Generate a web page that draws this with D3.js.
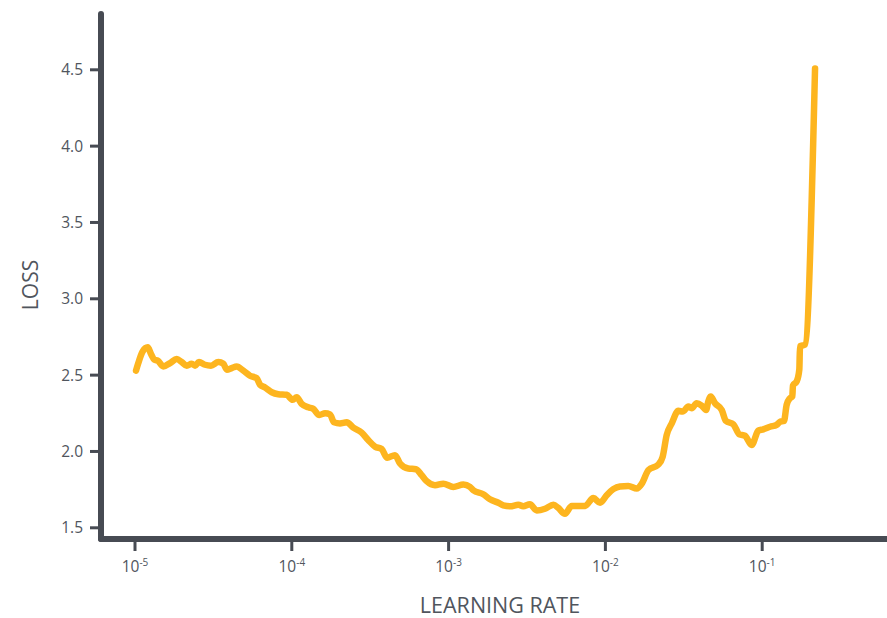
<!DOCTYPE html>
<html>
<head>
<meta charset="utf-8">
<script src="https://cdn.jsdelivr.net/npm/d3@7"></script>
<style>
  html, body { margin: 0; padding: 0; background: #fff; }
  svg { display: block; }
  text { font-family: "Open Sans", "Noto Sans", sans-serif; fill: #50555d; }
</style>
</head>
<body>
<svg id="chart" width="887" height="618"></svg>
<script>
// Learning-rate range test: loss recorded at each learning rate
const learningRates = [
  1.015e-5, 1.05e-5, 1.113e-5, 1.205e-5, 1.265e-5, 1.328e-5, 1.396e-5, 1.515e-5, 1.673e-5, 1.845e-5,
  1.985e-5, 2.137e-5, 2.30e-5, 2.414e-5, 2.559e-5, 2.795e-5, 3.05e-5, 3.40e-5, 3.66e-5, 3.85e-5,
  4.14e-5, 4.45e-5, 4.91e-5, 5.41e-5, 5.97e-5, 6.27e-5, 6.75e-5, 7.45e-5, 8.20e-5, 9.27e-5,
  1.014e-4, 1.074e-4, 1.156e-4, 1.274e-4, 1.371e-4, 1.497e-4, 1.629e-4, 1.753e-4, 1.858e-4, 2.029e-4,
  2.239e-4, 2.468e-4, 2.79e-4, 3.07e-4, 3.40e-4, 3.74e-4, 4.06e-4, 4.55e-4, 4.90e-4, 5.53e-4,
  6.19e-4, 6.73e-4, 7.25e-4, 8.19e-4, 9.25e-4, 1.072e-3, 1.242e-3, 1.368e-3, 1.438e-3, 1.663e-3,
  1.837e-3, 2.075e-3, 2.23e-3, 2.466e-3, 2.786e-3, 2.99e-3, 3.30e-3, 3.65e-3, 4.12e-3, 4.66e-3,
  5.01e-3, 5.52e-3, 6.10e-3, 6.72e-3, 7.41e-3, 8.38e-3, 9.25e-3, 1.019e-2, 1.122e-2, 1.239e-2,
  1.40e-2, 1.585e-2, 1.706e-2, 1.879e-2, 2.173e-2, 2.318e-2, 2.46e-2, 2.65e-2, 2.92e-2, 3.11e-2,
  3.38e-2, 3.55e-2, 3.82e-2, 4.11e-2, 4.39e-2, 4.53e-2, 4.70e-2, 5.00e-2, 5.52e-2, 5.87e-2,
  6.55e-2, 7.15e-2, 7.76e-2, 8.57e-2, 9.44e-2, 1.016e-1, 1.122e-1, 1.236e-1, 1.30e-1, 1.377e-1,
  1.432e-1, 1.504e-1, 1.556e-1, 1.571e-1, 1.66e-1, 1.725e-1, 1.742e-1, 1.875e-1, 2.173e-1
];
const losses = [
  2.529, 2.579, 2.651, 2.682, 2.638, 2.601, 2.595, 2.557, 2.579, 2.605,
  2.586, 2.562, 2.575, 2.562, 2.586, 2.568, 2.562, 2.586, 2.575, 2.536,
  2.546, 2.557, 2.529, 2.496, 2.480, 2.437, 2.419, 2.388, 2.375, 2.371,
  2.338, 2.355, 2.312, 2.289, 2.279, 2.239, 2.250, 2.243, 2.191, 2.184,
  2.191, 2.156, 2.123, 2.075, 2.031, 2.016, 1.959, 1.976, 1.921, 1.888,
  1.884, 1.845, 1.805, 1.779, 1.789, 1.768, 1.783, 1.768, 1.746, 1.720,
  1.687, 1.664, 1.647, 1.641, 1.651, 1.641, 1.654, 1.614, 1.625, 1.651,
  1.630, 1.592, 1.643, 1.643, 1.643, 1.695, 1.664, 1.713, 1.753, 1.771,
  1.774, 1.757, 1.789, 1.878, 1.914, 1.965, 2.108, 2.184, 2.266, 2.261,
  2.294, 2.283, 2.316, 2.301, 2.272, 2.327, 2.360, 2.316, 2.272, 2.200,
  2.178, 2.112, 2.103, 2.042, 2.136, 2.145, 2.162, 2.174, 2.195, 2.200,
  2.305, 2.349, 2.360, 2.432, 2.459, 2.538, 2.689, 2.700, 4.509
];

const xTickExponents = [-5, -4, -3, -2, -1];
const yTickValues = [1.5, 2.0, 2.5, 3.0, 3.5, 4.0, 4.5];
const xTitle = "LEARNING RATE";
const yTitle = "LOSS";

const data = learningRates.map((lr, i) => ({ lr, loss: losses[i] }));

const svg = d3.select("#chart");
const axisColor = "#474b53";
const lineColor = "#fdb51f";

const x = d3.scaleLog().domain([1e-5, 1e-1]).range([135, 762.2]);
const y = d3.scaleLinear().domain([1.5, 4.5]).range([527.8, 69.8]);

const axisX = 101;   // left spine position
const axisY = 539;   // bottom spine position

// Loss curve
const line = d3.line()
  .x(d => x(d.lr))
  .y(d => y(d.loss))
  .curve(d3.curveMonotoneX);

svg.append("path")
  .datum(data)
  .attr("d", line)
  .attr("fill", "none")
  .attr("stroke", lineColor)
  .attr("stroke-width", 6.5)
  .attr("stroke-linejoin", "round")
  .attr("stroke-linecap", "round");

// Y ticks and labels
const yt = svg.append("g");
yt.selectAll("line").data(yTickValues).join("line")
  .attr("x1", 90).attr("x2", axisX)
  .attr("y1", d => y(d)).attr("y2", d => y(d))
  .attr("stroke", axisColor).attr("stroke-width", 3);
yt.selectAll("text").data(yTickValues).join("text")
  .attr("x", 83)
  .attr("y", d => y(d))
  .attr("dy", "0.36em")
  .attr("text-anchor", "end")
  .attr("font-size", 15.5)
  .text(d => d.toFixed(1));

// X ticks and labels (powers of ten)
const xt = svg.append("g");
xt.selectAll("line").data(xTickExponents).join("line")
  .attr("x1", d => x(Math.pow(10, d))).attr("x2", d => x(Math.pow(10, d)))
  .attr("y1", axisY).attr("y2", 551)
  .attr("stroke", axisColor).attr("stroke-width", 3);
const xl = xt.selectAll("text").data(xTickExponents).join("text")
  .attr("x", d => x(Math.pow(10, d)))
  .attr("y", 572)
  .attr("text-anchor", "middle")
  .attr("font-size", 15.5);
xl.append("tspan").text("10");
xl.append("tspan")
  .attr("font-size", 10)
  .attr("dy", -6)
  .text(d => String(d));

// Spines
svg.append("line")
  .attr("x1", axisX).attr("x2", axisX)
  .attr("y1", 14).attr("y2", axisY)
  .attr("stroke", axisColor).attr("stroke-width", 6)
  .attr("stroke-linecap", "round");
svg.append("line")
  .attr("x1", axisX).attr("x2", 890)
  .attr("y1", axisY).attr("y2", axisY)
  .attr("stroke", axisColor).attr("stroke-width", 6)
  .attr("stroke-linecap", "round");

// Axis titles
svg.append("text")
  .attr("x", 500).attr("y", 613)
  .attr("text-anchor", "middle")
  .attr("font-size", 21.5)
  .attr("fill", "#4b5058")
  .text(xTitle);
svg.append("text")
  .attr("transform", "translate(38,285) rotate(-90)")
  .attr("text-anchor", "middle")
  .attr("font-size", 21)
  .attr("fill", "#4b5058")
  .text(yTitle);
</script>
</body>
</html>
